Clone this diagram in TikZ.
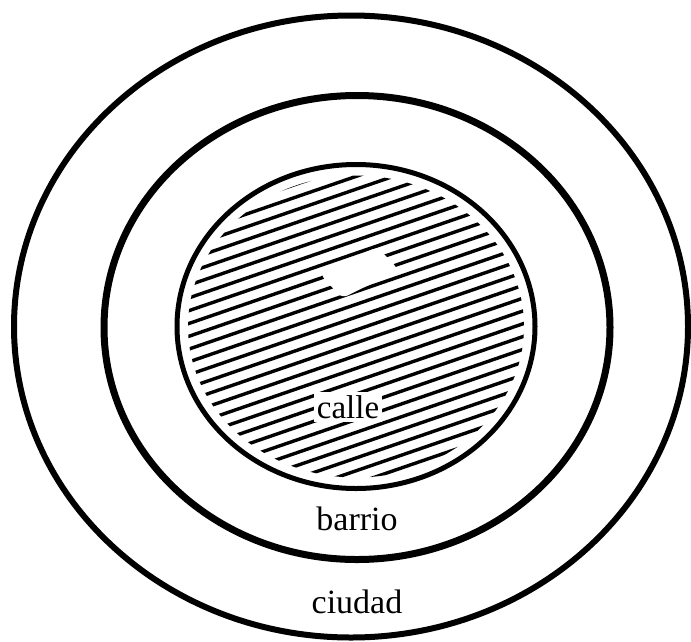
\documentclass[tikz,border=0pt]{standalone}
\usepackage{fontspec}
\setmainfont{Liberation Serif}
\begin{document}
\begin{tikzpicture}[x=1pt,y=-1pt,
  ring/.style={draw=black},
  hatchline/.style={line width=3.4pt, line cap=round},
  lbl/.style={font=\fontsize{34}{34}\selectfont, inner sep=2pt}]
\useasboundingbox[fill=white] (0,0) rectangle (691,641);
% hatching of the inner disc
\begin{scope}
  \clip (356,326.5) ellipse [x radius=168, y radius=151];
  \foreach \k in {-18,...,18}{
    \draw[hatchline] (165,{330+\k*12.8+0.344*191}) -- (550,{330+\k*12.8-0.344*194});
  }
  \fill[white, rotate around={19:(357,274)}, rounded corners=6pt]
    (322,262) -- (385,255) -- (398,284) -- (335,292) -- cycle;
\end{scope}
% rings
\draw[ring, line width=6pt] (351,326.5) ellipse [x radius=337, y radius=311];
\draw[ring, line width=7pt] (357,327.5) ellipse [x radius=253, y radius=232];
\draw[ring, line width=5pt] (356,326.5) ellipse [x radius=179, y radius=162];
% labels
\node[lbl, font=\fontsize{33}{33}\selectfont, fill=white, inner sep=3pt] (calle) at (348,407) {calle};
\node[lbl] (barrio) at (357,519) {barrio};
\node[lbl] (ciudad) at (357,602) {ciudad};
\end{tikzpicture}
\end{document}
